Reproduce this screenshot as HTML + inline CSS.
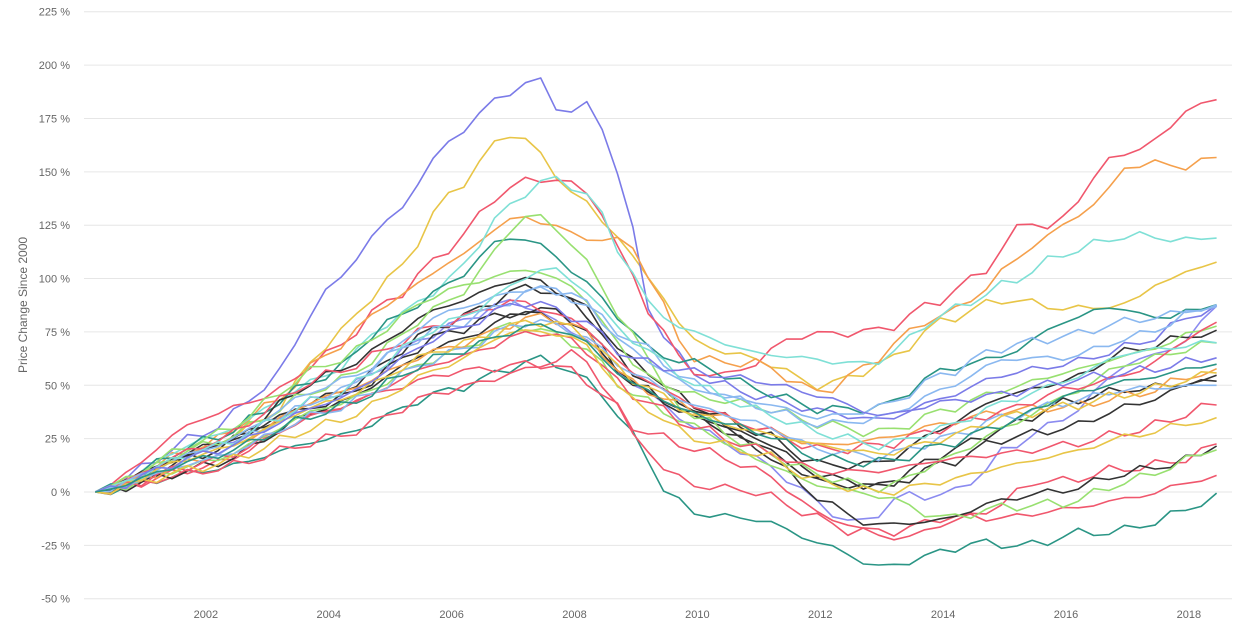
<!DOCTYPE html>
<html><head><meta charset="utf-8"><style>
html,body{margin:0;padding:0;background:#fff;}
svg{display:block;font-family:"Liberation Sans",sans-serif;}
</style></head><body>
<svg id="c" width="1238" height="640" viewBox="0 0 1238 640"></svg>
<script>
const svg=document.getElementById('c');
const X=y=>83+(y-2000)*61.44;
const Y=v=>492-v*2.1345;
let h='';
for(let v=-50;v<=225;v+=25){
  const y=Y(v);
  h+=`<line x1="84" x2="1232" y1="${y}" y2="${y}" stroke="#e6e6e6" stroke-width="1"/>`;
  h+=`<text x="70" y="${y+4}" font-size="11" fill="#666" text-anchor="end">${v} %</text>`;
}
for(let yr=2002;yr<=2018;yr+=2){
  h+=`<text x="${X(yr)}" y="618" font-size="11" fill="#666" text-anchor="middle">${yr}</text>`;
}
h+=`<text transform="translate(27,305) rotate(-90)" font-size="12" fill="#666" text-anchor="middle">Price Change Since 2000</text>`;
const S=[
['#e8c547',[[2000.2,0],[2002,20],[2003,35],[2004,70],[2005,100],[2006,140],[2007,168],[2008,140],[2008.7,120],[2009.2,100],[2010,70],[2011,62],[2012,50],[2013,60],[2014,80],[2015,90],[2016,86],[2017,88],[2017.5,98],[2018.5,108]]],
['#7b7be8',[[2000.2,0],[2002,28],[2003,50],[2004,95],[2005,128],[2006,165],[2006.8,185],[2007.4,193],[2007.8,178],[2008.3,180],[2008.7,150],[2009.3,80],[2010,55],[2011,45],[2012,38],[2013,34],[2014,44],[2015,55],[2016,60],[2017,68],[2018.5,88]]],
['#f0576d',[[2000.2,0],[2002,35],[2003,45],[2004,65],[2005,90],[2006,115],[2006.8,140],[2007.4,147],[2008.2,141],[2008.8,110],[2009.3,80],[2010,55],[2010.8,58],[2011.5,72],[2012,74],[2013,76],[2013.8,88],[2014.5,100],[2015.4,127],[2015.8,124],[2016.7,155],[2017.5,165],[2018,180],[2018.5,184]]],
['#f5a04c',[[2000.2,0],[2002,22],[2003,40],[2004,65],[2005,89],[2006,108],[2007,128],[2007.6,126],[2008,120],[2009,115],[2009.3,95],[2009.7,72],[2010,62],[2011,60],[2012,47],[2012.8,60],[2013.6,78],[2014.5,90],[2015,105],[2015.8,122],[2016.6,138],[2017,153],[2018,153],[2018.5,157]]],
['#7fe0d6',[[2000.2,0],[2002,25],[2004,55],[2005,80],[2006,100],[2006.8,130],[2007.5,146],[2008.2,140],[2008.8,110],[2009.3,85],[2010,74],[2011,65],[2012,62],[2012.5,60],[2013,62],[2013.8,80],[2014.5,90],[2015.2,100],[2016,112],[2017,120],[2018,118],[2018.5,119]]],
['#2a9585',[[2000.2,0],[2002,24],[2004,55],[2005,80],[2006,98],[2006.8,118],[2007.3,118],[2008,103],[2008.8,80],[2009.3,65],[2010,60],[2011,48],[2012,39],[2013,40],[2014,57],[2015,64],[2016,80],[2016.8,87],[2017.3,82],[2018,84],[2018.5,88]]],
['#2a9585',[[2000.2,0],[2002,10],[2004,25],[2006,48],[2007.5,62],[2008.3,50],[2009,25],[2009.5,0],[2010,-10],[2011,-13],[2012,-24],[2013,-35],[2014,-28],[2014.5,-24],[2015.5,-25],[2016,-20],[2017,-18],[2017.3,-15],[2018,-8],[2018.5,0]]],
['#f0576d',[[2000.2,0],[2002,10],[2004,25],[2006,48],[2007.6,60],[2008,66],[2008.6,45],[2009,25],[2009.6,8],[2010,3],[2011,0],[2011.6,-8],[2012.5,-18],[2013.3,-18],[2014,-12],[2015,-12],[2016,-8],[2017,-3],[2018.5,8]]],
['#f0576d',[[2000.2,0],[2002,12],[2004,38],[2005,48],[2006,56],[2007.5,60],[2008,56],[2008.5,45],[2009,30],[2010,20],[2011,10],[2012,-10],[2012.5,-16],[2013.3,-22],[2014,-15],[2014.8,-8],[2015.5,5],[2016,5],[2016.7,10],[2017.3,12],[2018,16],[2018.5,23]]],
['#8b8bf0',[[2000.2,0],[2002,20],[2004,45],[2006,78],[2007,89],[2008,75],[2009,50],[2010,30],[2011,15],[2012,-5],[2012.5,-15],[2013.5,-1],[2014,-2],[2014.7,10],[2015,20],[2016,35],[2017,60],[2017.8,68],[2018.5,88]]],
['#333',[[2000.2,0],[2002,12],[2004,40],[2006,70],[2007.4,86],[2008,80],[2009,50],[2010,35],[2011,20],[2012,-3],[2012.8,-15],[2014,-13],[2014.8,-5],[2015.5,-1],[2016,1],[2017,9],[2018,15],[2018.5,22]]],
['#333',[[2000.2,0],[2001.5,15],[2002,22],[2004,42],[2006,75],[2007,84],[2008,78],[2009,50],[2010,35],[2011,25],[2012,8],[2013,3],[2014,13],[2015,25],[2016,30],[2017,40],[2018.5,55]]],
['#333',[[2000.2,0],[2002,18],[2004,55],[2006,88],[2007.2,100],[2008,90],[2009,60],[2010,40],[2011,28],[2012,13],[2013,14],[2014,30],[2015,45],[2016,52],[2017,66],[2018.5,76]]],
['#333',[[2000.2,0],[2002,20],[2004,45],[2006,80],[2007.3,96],[2008,88],[2009,55],[2010,38],[2011,22],[2012,5],[2013,3],[2014,18],[2015,30],[2016,42],[2017,48],[2018.5,52]]],
['#98e070',[[2000.2,0],[2002,25],[2004,60],[2006,95],[2007.3,104],[2008,95],[2009,60],[2010,35],[2011,20],[2012,8],[2013,2],[2014,15],[2015,30],[2016,45],[2017,60],[2018.5,70]]],
['#98e070',[[2000.2,0],[2002,14],[2004,40],[2006,65],[2007,78],[2008,70],[2009,45],[2010,30],[2011,15],[2012,3],[2013,-2],[2014,-12],[2015,-7],[2016,-5],[2017,5],[2018.5,20]]],
['#98e070',[[2000.2,0],[2002,22],[2004,50],[2006,90],[2007.3,130],[2008,115],[2008.8,80],[2009.5,50],[2010,45],[2011,40],[2012,32],[2013,28],[2014,38],[2015,48],[2016,56],[2017,64],[2018.5,78]]],
['#f5a04c',[[2000.2,0],[2002,16],[2004,45],[2006,68],[2007.4,82],[2008,78],[2009,50],[2010,38],[2011,30],[2012,22],[2013,25],[2014,32],[2015,38],[2016,40],[2017,45],[2018.5,58]]],
['#f0576d',[[2000.2,0],[2002,22],[2004,55],[2006,80],[2007,89],[2008,80],[2009,55],[2010,40],[2011,30],[2012,20],[2013,22],[2014,30],[2015,38],[2016,48],[2017,55],[2018.5,80]]],
['#f0576d',[[2000.2,0],[2002,14],[2004,38],[2006,62],[2007.4,75],[2008,70],[2009,45],[2010,30],[2011,20],[2012,10],[2013,10],[2014,15],[2015,18],[2016,22],[2017,28],[2018.5,41]]],
['#8ab8f0',[[2000.2,0],[2002,15],[2004,38],[2006,65],[2007.3,80],[2008,75],[2009,55],[2010,40],[2011,32],[2012,20],[2013,17],[2014,25],[2015,35],[2016,42],[2017,48],[2018.5,50]]],
['#8ab8f0',[[2000.2,0],[2002,18],[2004,45],[2006,85],[2007.5,96],[2008,90],[2009,70],[2010,50],[2011,40],[2012,32],[2013,35],[2014,48],[2015,62],[2016,63],[2017,72],[2018.5,88]]],
['#8ab8f0',[[2000.2,0],[2002,20],[2004,50],[2006,78],[2007.5,95],[2008,92],[2009,65],[2010,48],[2011,42],[2012,35],[2013,40],[2014,55],[2015,68],[2016,73],[2017,80],[2018.5,87]]],
['#e8c547',[[2000.2,0],[2002,12],[2004,32],[2006,60],[2007,75],[2008,72],[2009,42],[2010,25],[2011,18],[2012,5],[2013,0],[2014,5],[2015,12],[2016,18],[2017,26],[2018.5,35]]],
['#e8c547',[[2000.2,0],[2002,18],[2004,42],[2006,68],[2007.4,80],[2008,76],[2009,52],[2010,36],[2011,28],[2012,22],[2013,18],[2014,25],[2015,35],[2016,40],[2017,46],[2018.5,56]]],
['#7fe0d6',[[2000.2,0],[2002,20],[2004,45],[2006,80],[2007.6,105],[2008,98],[2009,70],[2010,50],[2011,38],[2012,28],[2013,22],[2014,30],[2015,42],[2016,52],[2017,65],[2018.5,70]]],
['#7b7be8',[[2000.2,0],[2002,18],[2004,42],[2006,75],[2007.2,89],[2008,82],[2009,62],[2010,56],[2011,52],[2012,45],[2013,36],[2014,42],[2015,46],[2016,52],[2017,56],[2018.5,63]]],
['#2a9585',[[2000.2,0],[2002,16],[2004,38],[2006,65],[2007.4,78],[2008,73],[2009,50],[2010,36],[2011,28],[2012,16],[2013,14],[2014,22],[2015,32],[2016,45],[2017,52],[2018.5,60]]]
];
function interp(pts,t){
  for(let i=0;i<pts.length-1;i++){
    const a=pts[i],b=pts[i+1];
    if(t>=a[0]&&t<=b[0]){
      const p0=pts[Math.max(0,i-1)],p3=pts[Math.min(pts.length-1,i+2)];
      const u=(t-a[0])/(b[0]-a[0]);
      const m1=(b[1]-p0[1])/(b[0]-p0[0])*(b[0]-a[0])*0.5;
      const m2=(p3[1]-a[1])/(p3[0]-a[0])*(b[0]-a[0])*0.5;
      const u2=u*u,u3=u2*u;
      return (2*u3-3*u2+1)*a[1]+(u3-2*u2+u)*m1+(-2*u3+3*u2)*b[1]+(u3-u2)*m2;
    }
  }
  return pts[pts.length-1][1];
}
S.forEach((s,k)=>{
  const pts=s[1];let d='';
  for(let t=2000.2;t<=2018.51;t+=0.25){
    let v=interp(pts,t);
    if(t>2000.3&&t<2018.4) v+=1.6*Math.sin(t*17.3+k*5.1)+1.0*Math.sin(t*41.7+k*2.3);
    d+=(d?'L':'M')+X(t).toFixed(1)+','+Y(v).toFixed(1);
  }
  h+=`<path d="${d}" fill="none" stroke="${s[0]}" stroke-width="1.6" stroke-linejoin="round"/>`;
});
svg.innerHTML=h;
</script>
</body></html>
